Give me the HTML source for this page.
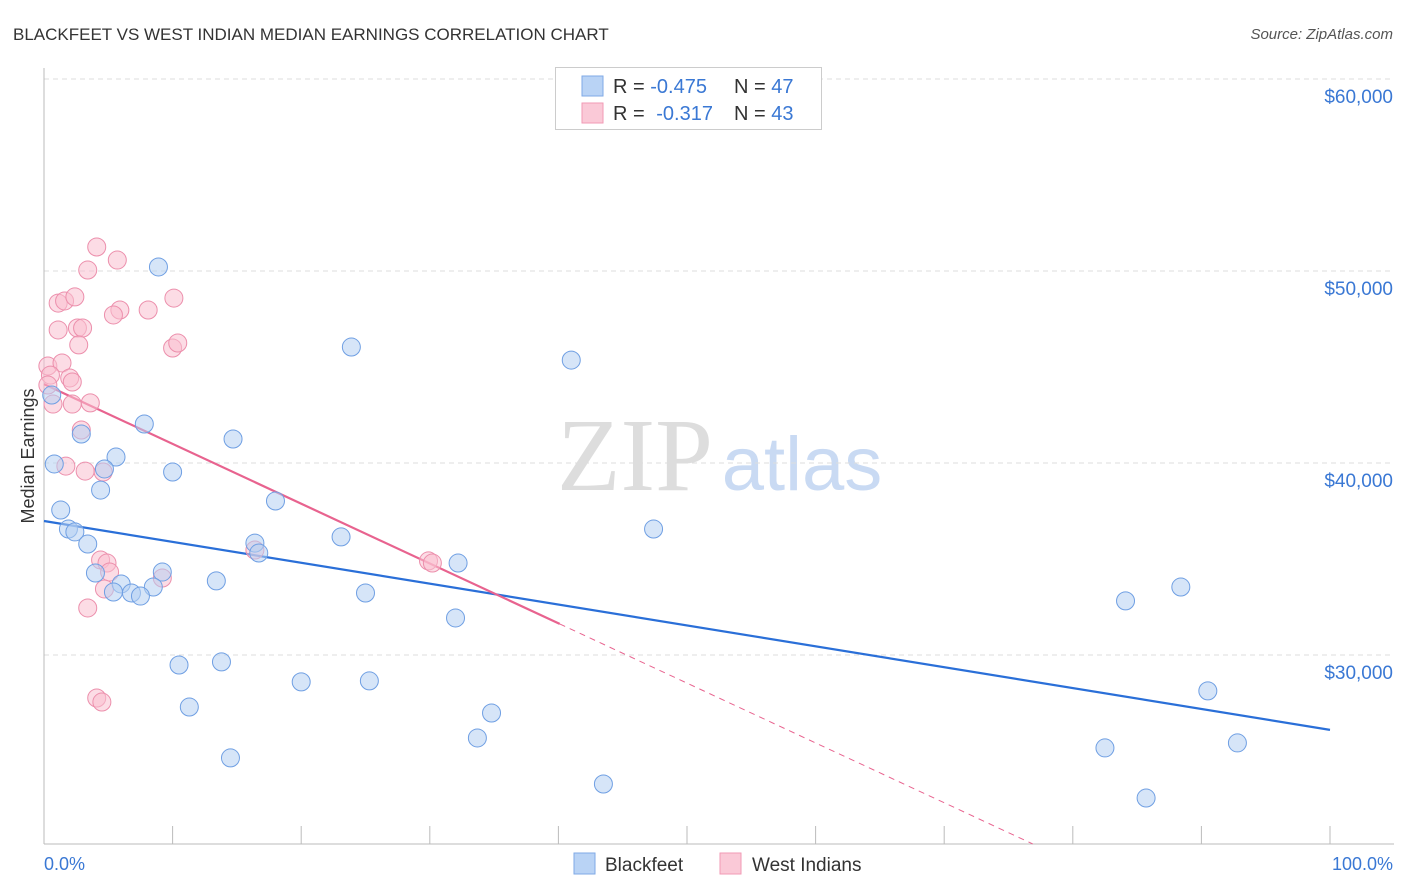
<!DOCTYPE html>
<html><head><meta charset="utf-8"><style>
body{margin:0;background:#fff;font-family:"Liberation Sans",sans-serif;}
svg{display:block}
</style></head><body>
<svg id="c" width="1406" height="892" viewBox="0 0 1406 892" xmlns="http://www.w3.org/2000/svg">
<text x="13" y="40" font-size="17" fill="#333">BLACKFEET VS WEST INDIAN MEDIAN EARNINGS CORRELATION CHART</text>
<text x="1393" y="39" font-size="15" fill="#555" font-style="italic" text-anchor="end">Source: ZipAtlas.com</text>
<g><text x="635" y="490" font-size="104" font-family="Liberation Serif,serif" fill="#ddd" text-anchor="middle">ZIP</text><text x="802" y="490" font-size="76" fill="#c9daf3" text-anchor="middle">atlas</text></g>
<g id="grid"></g>
<g id="axes"></g>
<g id="lines"></g>
<g id="pts"></g>
<text transform="translate(34,456) rotate(-90)" font-size="18" fill="#333" text-anchor="middle">Median Earnings</text>
<text x="44" y="870" font-size="18" fill="#3a78d4">0.0%</text>
<text x="1393" y="870" font-size="18" fill="#3a78d4" text-anchor="end">100.0%</text>
<g>
<rect x="555.5" y="67.5" width="266" height="62" fill="#fff" stroke="#ccc"/>
<rect x="582" y="76" width="21" height="20" fill="#b9d3f5" stroke="#7fa9e6"/>
<rect x="582" y="103" width="21" height="20" fill="#fac9d7" stroke="#f19ab4"/>
<text x="613" y="93" font-size="20" fill="#333">R = <tspan fill="#3a78d4">-0.475</tspan><tspan x="734">N = </tspan><tspan fill="#3a78d4">47</tspan></text>
<text x="613" y="120" font-size="20" fill="#333">R = <tspan fill="#3a78d4" dx="6">-0.317</tspan><tspan x="734">N = </tspan><tspan fill="#3a78d4">43</tspan></text>
</g>
<g>
<rect x="574" y="853" width="21" height="21" fill="#b9d3f5" stroke="#7fa9e6"/>
<text x="605" y="871" font-size="19" fill="#333">Blackfeet</text>
<rect x="720" y="853" width="21" height="21" fill="#fac9d7" stroke="#f19ab4"/>
<text x="752" y="871" font-size="19" fill="#333">West Indians</text>
</g>
</svg>
<script>
const yTicks=[30000,40000,50000,60000];
const yTickLabels=["$30,000","$40,000","$50,000","$60,000"];
const blackfeetX=[8.9,23.9,41.0,0.6,7.8,2.9,14.7,5.6,0.8,4.7,10.0,4.4,18.0,1.3,1.9,2.4,47.4,23.1,3.4,16.4,16.7,32.2,4.0,9.2,6.0,13.4,8.5,5.4,6.8,7.5,25.0,88.4,84.1,32.0,10.5,13.8,20.0,25.3,90.5,11.3,34.8,33.7,82.5,92.8,14.5,43.5,85.7];
const blackfeetY=[50210,46040,45360,43540,42030,41510,41250,40310,39950,39690,39530,38590,38020,37550,36560,36410,36560,36150,35780,35830,35310,34790,34270,34320,33700,33860,33540,33280,33230,33070,33230,33540,32820,31930,29480,29640,28600,28650,28130,27290,26980,25680,25160,25420,24640,23280,22550];
const westIndiansX=[4.1,5.7,3.4,1.1,1.6,2.4,10.1,8.1,5.9,5.4,1.1,2.6,3.0,2.7,10.0,10.4,0.3,1.4,0.5,2.0,2.2,0.3,0.7,2.2,3.6,2.9,1.7,3.2,4.6,4.4,4.9,5.1,9.2,4.7,3.4,4.1,4.5,16.4,29.9,30.2];
const westIndiansY=[51250,50570,50050,48330,48440,48650,48590,47970,47970,47710,46930,47030,47030,46150,45990,46250,45050,45210,44580,44430,44220,44060,43070,43070,43130,41720,39840,39580,39530,34950,34790,34320,34010,33440,32450,27760,27550,35470,34900,34790];
const blueTrend=[36980,-108.8];
const pinkTrend=[44110,-311.5];
const pinkSolidEnd=40.1;
const X=p=>44+p*12.86, Y=v=>79+(60000-v)/10000*192;
const NS="http://www.w3.org/2000/svg";
function mk(t,a,parent){const e=document.createElementNS(NS,t);for(const k in a)e.setAttribute(k,a[k]);document.getElementById(parent).appendChild(e);return e;}
yTicks.forEach((v,i)=>{
 const g=mk('line',{x1:44,x2:1394,y1:Y(v),y2:Y(v),stroke:'#ddd','stroke-dasharray':'5,4'},'grid');
 
 
 const t=mk('text',{x:1393,y:Y(v)+24,'font-size':19,fill:'#3a78d4','text-anchor':'end'},'grid');
 t.textContent=yTickLabels[i];
 
 
});
mk('line',{x1:44,x2:1394,y1:844,y2:844,stroke:'#bbb'},'axes');
mk('line',{x1:44,x2:44,y1:68,y2:844,stroke:'#bbb'},'axes');
for(let i=0;i<=10;i++){const l=mk('line',{x1:X(i*10),x2:X(i*10),y1:826,y2:844,stroke:'#bbb'},'axes');
 
 }
function pts(xs,ys,fill,stroke,name){xs.forEach((x,i)=>{const c=mk('circle',{cx:X(x),cy:Y(ys[i]),r:9,fill:fill,stroke:stroke,'stroke-width':1,'fill-opacity':0.55},'pts');
 
 });}
pts(westIndiansX,westIndiansY,'#f9bfd0','#ec8fac','west-indians-point');
pts(blackfeetX,blackfeetY,'#b5cff3','#6f9fe3','blackfeet-point');
const bl=mk('line',{x1:X(0),y1:Y(blueTrend[0]),x2:X(100),y2:Y(blueTrend[0]+100*blueTrend[1]),stroke:'#2a6fd8','stroke-width':2.2},'lines');


const pl=mk('line',{x1:X(0),y1:Y(pinkTrend[0]),x2:X(pinkSolidEnd),y2:Y(pinkTrend[0]+pinkSolidEnd*pinkTrend[1]),stroke:'#e8638f','stroke-width':2.2},'lines');


const endX=(20160-pinkTrend[0])/pinkTrend[1];
const pd=mk('line',{x1:X(pinkSolidEnd),y1:Y(pinkTrend[0]+pinkSolidEnd*pinkTrend[1]),x2:X(endX),y2:Y(pinkTrend[0]+endX*pinkTrend[1]),stroke:'#e8638f','stroke-width':1,'stroke-dasharray':'6,5'},'lines');


</script>
</body></html>
